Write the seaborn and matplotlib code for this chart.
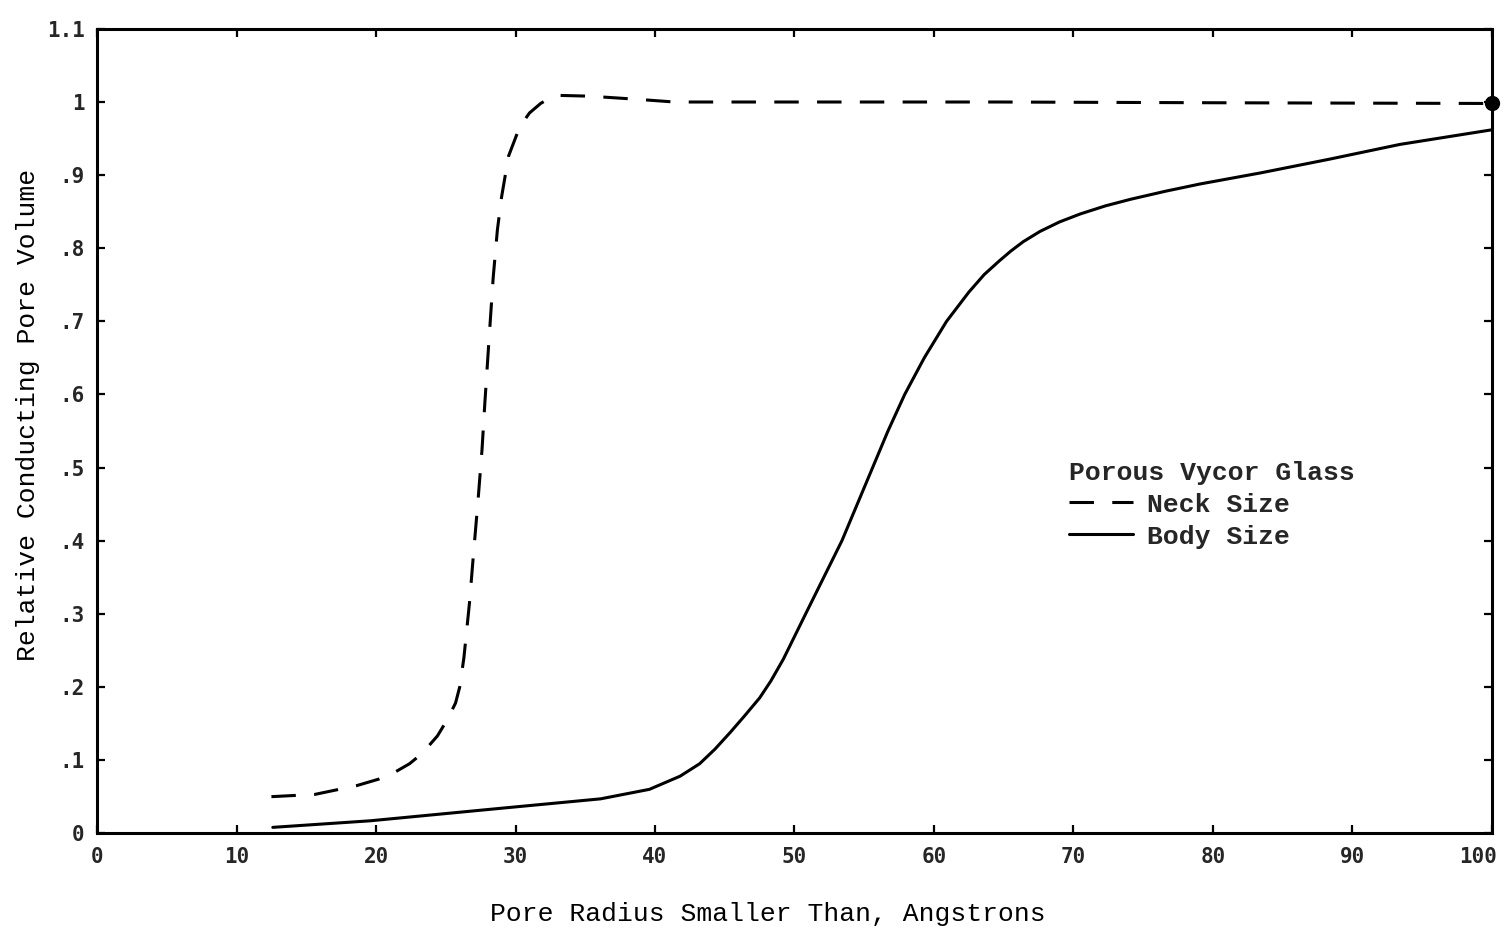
import numpy as np
import pandas as pd
import matplotlib
matplotlib.use("Agg")
import matplotlib.pyplot as plt
import matplotlib.transforms as mtransforms
import seaborn as sns

# Relative conducting pore volume vs. pore radius, porous Vycor glass
neck_radius = [12.5, 15.6, 18.6, 20.2, 21.4, 22.4, 23.3, 24.4, 25.1, 25.7, 26.0,
               26.3, 26.7, 27.0, 27.3, 27.6, 27.8, 28.1, 28.4, 28.7, 29.0, 29.5,
               30.3, 31.0, 31.8, 32.5, 33.2, 35.3, 38.5, 41.4, 50.0, 64.7, 80.0,
               100.0]
neck_volume = [0.050, 0.053, 0.065, 0.074, 0.084, 0.095, 0.109, 0.133, 0.155, 0.178,
               0.200, 0.240, 0.315, 0.385, 0.452, 0.525, 0.588, 0.675, 0.760, 0.825,
               0.870, 0.926, 0.966, 0.985, 0.998, 1.006, 1.009, 1.008, 1.004, 1.000,
               1.000, 1.000, 0.999, 0.998]

body_radius = [12.6, 19.6, 28.9, 36.1, 39.6, 41.8, 43.2, 44.3, 45.4, 46.4, 47.5,
               48.3, 49.2, 50.8, 52.1, 53.4, 54.5, 55.6, 56.7, 57.9, 59.3, 60.9,
               62.5, 63.6, 64.7, 65.5, 66.4, 67.6, 69.0, 70.5, 72.3, 74.1, 76.6,
               79.1, 83.4, 88.4, 93.4, 100.0]
body_volume = [0.008, 0.017, 0.034, 0.047, 0.060, 0.078, 0.095, 0.115, 0.138, 0.160,
               0.185, 0.208, 0.238, 0.300, 0.350, 0.400, 0.450, 0.500, 0.550, 0.600,
               0.650, 0.700, 0.740, 0.764, 0.783, 0.796, 0.809, 0.823, 0.836, 0.847,
               0.858, 0.867, 0.878, 0.888, 0.903, 0.922, 0.942, 0.962]

end_point = (100.0, 0.998)

x_ticks = [0, 10, 20, 30, 40, 50, 60, 70, 80, 90, 100]
y_ticks = [0, 0.1, 0.2, 0.3, 0.4, 0.5, 0.6, 0.7, 0.8, 0.9, 1.0, 1.1]
y_tick_labels = ["0", ".1", ".2", ".3", ".4", ".5", ".6", ".7", ".8", ".9", "1", "1.1"]

series_names = ["Neck Size", "Body Size"]

df = pd.concat([
    pd.DataFrame({"radius": neck_radius, "volume": neck_volume, "series": series_names[0]}),
    pd.DataFrame({"radius": body_radius, "volume": body_volume, "series": series_names[1]}),
], ignore_index=True)

sns.set_theme(style="ticks")
plt.rcParams["font.family"] = ["Liberation Mono", "DejaVu Sans Mono"]

fig = plt.figure(figsize=(15.07, 9.32), dpi=100)
ax = fig.add_axes([0.0644, 0.106, 0.9256, 0.863])

sns.lineplot(data=df, x="radius", y="volume", style="series", hue="series",
             palette={series_names[0]: "black", series_names[1]: "black"},
             dashes={series_names[0]: (8, 6), series_names[1]: ""},
             linewidth=2.2, sort=False, estimator=None, ax=ax)

ax.plot([end_point[0]], [end_point[1]], marker="o", color="black",
        markersize=10, clip_on=False, zorder=5)

ax.set_xlim(0, 100)
ax.set_ylim(0, 1.1)
ax.set_xticks(x_ticks)
ax.set_xticklabels([str(v) for v in x_ticks])
ax.set_yticks(y_ticks)
ax.set_yticklabels(y_tick_labels)

for spine in ax.spines.values():
    spine.set_visible(True)
    spine.set_linewidth(2.2)
    spine.set_color("black")

ax.tick_params(axis="both", which="major", direction="in", length=6, width=1.6,
               color="black", top=True, right=True, labeltop=False, labelright=False)
ax.tick_params(axis="x", pad=10)
ax.tick_params(axis="y", pad=9)
for lab in ax.get_xticklabels() + ax.get_yticklabels():
    lab.set_fontfamily("DejaVu Sans Mono")
    lab.set_fontweight("bold")
    lab.set_fontsize(15)

# keep the last x tick label inside the figure edge
last = ax.get_xticklabels()[-1]
last.set_transform(last.get_transform() +
                   mtransforms.ScaledTranslation(-14 / 100, 0, fig.dpi_scale_trans))

ax.set_xlabel("Pore Radius Smaller Than, Angstrons", fontsize=19, labelpad=24,
              color="black")
ax.xaxis.set_label_coords(0.481, -0.085)
ax.set_ylabel("Relative Conducting Pore Volume", fontsize=19, labelpad=8,
              color="black")
ax.yaxis.set_label_coords(-0.041, 0.52)

handles, labels = ax.get_legend_handles_labels()
leg = ax.legend(handles, labels, title="Porous Vycor Glass", frameon=False,
                loc="upper left", bbox_to_anchor=(0.697, 0.463),
                prop={"size": 19, "weight": "bold"},
                title_fontproperties={"size": 19, "weight": "bold"},
                handlelength=2.4, handletextpad=0.55, labelspacing=0.3,
                borderpad=0.0, borderaxespad=0.0)
leg._legend_box.align = "left"

fig.savefig("out.png", dpi=100, facecolor="white")
